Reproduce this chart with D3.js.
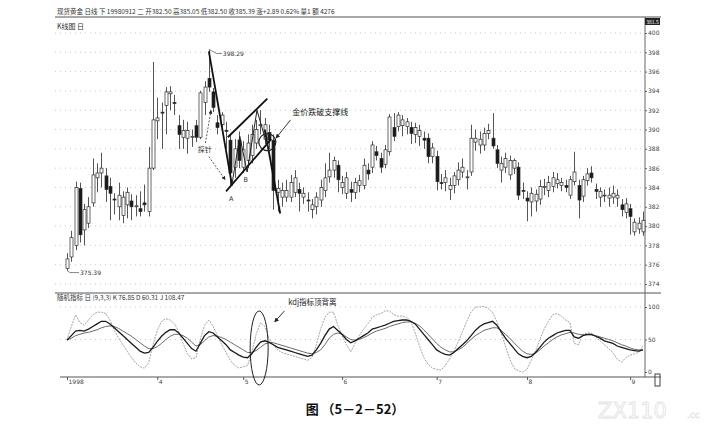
<!DOCTYPE html>
<html><head><meta charset="utf-8">
<script src="https://cdn.jsdelivr.net/npm/d3@7"></script>
<style>body{margin:0;background:#fff}svg{display:block}</style>
</head><body>
<svg id="c" width="725" height="428"></svg>
<script>
// ---- DATA (daily candles, spot gold, Mar–Sep 1998) ----
const open  = [375.6,376.8,378.0,383.9,379.6,380.3,382.4,385.0,385.5,385.2,384.1,382.8,382.0,381.1,382.2,382.6,382.0,381.8,382.4,381.5,
386.0,390.9,391.8,392.5,393.7,392.8,390.4,389.2,389.1,389.2,390.4,389.2,392.8,395.3,393.9,390.7,390.5,389.9,388.9,386.1,
388.9,386.1,386.8,387.3,388.6,390.4,389.0,389.7,388.9,383.5,383.0,383.0,383.0,383.5,383.8,383.0,382.7,381.7,382.0,382.7,
383.7,385.1,385.8,386.3,384.0,383.4,383.8,383.5,384.2,384.2,385.8,386.1,387.7,387.0,386.4,387.7,390.2,390.3,390.4,390.3,
390.2,389.5,389.3,389.1,389.1,387.2,387.2,384.5,384.5,383.8,384.2,384.8,385.6,385.0,385.6,388.7,388.4,388.4,389.6,389.1,
387.9,385.8,386.1,385.3,386.0,386.1,383.7,382.9,382.5,382.6,382.8,384.0,383.7,384.1,384.4,384.2,384.2,383.2,384.6,384.2,
383.1,384.7,385.5,383.8,383.0,383.2,382.9,383.0,382.9,382.2,381.4,381.8,379.4,379.7,379.4];
const high  = [377.2,379.5,384.6,384.5,382.3,383.0,387.0,386.5,387.6,386.0,385.0,383.4,384.5,383.6,384.0,383.3,383.2,383.6,384.3,388.2,
397.0,393.3,392.8,394.4,394.5,393.6,391.5,391.0,390.8,390.0,391.0,394.0,395.0,398.29,394.3,391.5,391.8,390.8,389.5,389.0,
389.8,388.8,389.5,390.5,391.0,392.0,391.2,390.5,389.5,384.8,384.5,384.8,385.3,385.8,384.5,384.0,383.5,382.8,383.5,384.8,
386.5,387.6,387.2,386.8,385.2,385.6,384.6,385.0,385.3,387.0,386.5,388.8,388.3,387.6,388.4,391.6,391.7,391.8,391.5,391.2,
390.8,390.7,390.5,389.8,389.6,388.6,387.8,385.4,385.8,385.0,385.6,386.6,387.0,385.8,390.5,390.0,389.8,390.2,390.6,391.7,
388.4,387.2,387.6,387.3,387.0,386.6,384.5,383.6,384.0,383.8,384.8,384.9,385.2,385.6,385.5,385.0,384.8,385.2,387.7,384.8,
385.2,386.0,386.2,384.4,384.0,383.8,384.0,384.2,383.8,382.8,382.9,382.3,380.8,380.9,381.5];
const low   = [375.39,376.3,377.5,378.3,378.0,379.8,382.0,383.5,384.0,382.5,380.6,381.2,380.6,380.3,380.8,380.6,381.0,381.0,381.5,381.0,
385.8,389.0,388.0,389.5,392.0,391.5,388.0,388.0,387.5,388.2,388.7,389.0,391.5,393.9,391.8,389.5,389.8,388.0,384.2,385.0,
386.0,385.5,386.0,386.5,388.0,389.5,388.5,388.0,381.7,381.5,382.0,382.5,382.5,383.0,381.5,382.3,381.5,380.8,381.2,382.0,
383.0,384.5,385.0,383.5,383.3,382.8,382.5,382.8,383.5,383.8,384.8,385.5,386.8,385.5,386.0,387.3,388.8,389.8,389.3,389.5,
388.5,388.6,388.3,388.0,386.5,386.5,383.7,383.8,383.6,382.7,383.4,384.2,385.0,383.8,385.2,387.8,387.5,387.8,389.0,388.0,
386.0,384.5,385.5,384.8,385.4,382.7,382.8,380.5,381.0,381.5,382.2,383.2,383.0,383.5,383.9,383.6,383.5,382.8,384.2,380.8,
382.5,384.2,384.5,382.8,382.0,382.5,382.0,382.3,382.0,381.0,380.8,379.1,379.0,379.2,379.0];
const close = [376.6,378.8,384.0,379.1,381.7,382.0,385.3,385.5,386.0,383.8,383.4,382.7,383.2,383.0,383.5,382.0,382.1,381.5,382.2,386.0,
391.0,391.2,391.7,393.9,393.9,392.7,389.5,389.9,389.9,389.3,389.2,393.8,394.4,394.4,392.3,390.2,391.5,389.8,385.5,388.0,
386.8,387.9,388.6,389.5,390.0,390.5,390.5,388.9,383.7,383.9,383.7,383.7,384.5,385.0,383.4,383.4,382.6,382.2,383.0,384.0,
385.0,385.8,386.8,384.8,384.5,385.0,383.5,384.5,384.7,386.3,385.4,388.4,387.3,386.1,387.9,391.3,389.3,391.5,391.0,390.8,
389.6,390.2,389.9,388.9,387.2,388.1,384.6,384.4,385.0,384.2,385.2,385.8,386.1,385.1,389.1,389.1,389.0,389.6,389.9,388.3,
386.5,386.5,387.0,386.8,386.8,383.2,383.6,382.6,383.4,383.3,384.1,384.1,384.5,385.0,384.8,384.5,384.0,384.8,385.6,382.7,
384.8,385.4,385.0,383.6,383.6,383.2,383.2,383.4,383.2,381.7,382.3,381.0,380.4,380.3,380.6];

// KDJ (9,3,3) values
const kLine = [49,56,63,64,63,66,70,74,78,78,74,68,62,56,50,44,38,32,29,30,
38,47,55,61,65,65,60,52,44,36,32,44,56,62,60,54,48,42,34,30,
26,23,22,28,38,46,48,46,42,38,36,34,32,30,28,26,24,26,34,44,
56,66,70,64,58,50,45,48,52,56,60,66,68,70,72,75,78,79,80,80,
78,74,66,58,50,42,34,30,27,26,30,36,42,48,56,64,70,74,76,78,
72,62,52,44,36,28,24,22,24,30,38,46,52,56,60,62,64,64,54,52,
56,58,58,55,52,48,46,44,40,38,36,34,33,32,34];
const dLine = [49,52,56,58,60,61,63,65,68,70,71,70,67,63,59,55,50,45,40,36,
36,39,44,50,55,58,58,56,52,46,40,42,48,54,56,55,53,50,46,42,
38,34,30,30,33,38,43,45,45,43,41,39,37,35,33,31,29,28,30,34,
42,52,58,60,58,54,50,49,50,53,56,60,63,65,67,70,72,74,76,77,
77,75,71,65,58,51,44,38,34,31,31,34,38,44,50,56,60,64,66,68,
68,64,58,52,45,38,32,28,27,29,34,40,45,50,54,57,59,61,60,58,
57,57,57,56,54,52,50,48,45,42,40,37,35,34,34];
const jLine = [49,70,88,76,72,80,88,92,92,90,80,64,52,42,32,22,14,8,6,14,
42,64,78,82,80,74,62,44,28,20,22,50,72,80,70,56,42,30,18,10,
6,8,10,30,58,76,70,52,42,34,30,28,26,24,22,20,18,22,42,66,
84,92,92,72,56,42,31,44,56,66,74,84,88,90,94,94,88,86,86,84,
78,60,40,22,12,6,4,3,10,20,32,46,62,78,92,100,100,101,98,92,
78,60,40,20,6,2,0,4,18,32,50,66,78,88,90,86,80,76,44,42,
58,60,60,54,48,42,36,30,20,15,22,26,28,30,40];

const priceTicks = [374,376,378,380,382,384,386,388,390,392,394,396,398,400];
const kdjTicks = [0,50,100];
const monthIdx = [0,21,41,64,86,107,131];
const monthLabels = ["1998","4","5","6","7","8","9"];

// annotations, in [candle index, price] coordinates
const peakLine   = [[33.0,398.1],[38.4,384.2]];
const upperLine  = [[37.4,389.2],[46.6,393.2]];
const lowerLine  = [[37.0,383.6],[47.5,389.0]];
const breakLine  = [[46.0,390.0],[49.6,381.3]];
const waveLine   = [[38.4,384.4],[40.2,389.3],[41.9,385.6],[44.2,392.0],[46.6,388.3]];
const breakCircle = [46.6,388.7];
const kdjEllipse  = [44.7,37];

// ---- DRAW ----
const svg = d3.select("#c");
const n = open.length;
const x = d3.scaleLinear().domain([0, n-1]).range([67, 643]);
const y = d3.scaleLinear().domain([374, 400]).range([284, 33]);
const yk = d3.scaleLinear().domain([0, 100]).range([372, 307]);
const ink = "#2a2a2a";
const font = "'Noto Sans CJK SC','DejaVu Sans',sans-serif";

// frame lines
svg.append("line").attr("x1",55).attr("x2",661).attr("y1",17).attr("y2",17).attr("stroke","#555").attr("stroke-width",1);
svg.append("line").attr("x1",55).attr("x2",661).attr("y1",293).attr("y2",293).attr("stroke","#555").attr("stroke-width",1);
svg.append("line").attr("x1",60).attr("x2",661).attr("y1",377).attr("y2",377).attr("stroke","#555").attr("stroke-width",1);
svg.append("line").attr("x1",645).attr("x2",645).attr("y1",17).attr("y2",377).attr("stroke","#666").attr("stroke-width",1);
svg.append("rect").attr("x",655).attr("y",374).attr("width",5).attr("height",12).attr("fill","none").attr("stroke","#444");

// header texts
svg.append("text").attr("x",57).attr("y",14).attr("font-family",font).attr("font-size",6.5).attr("fill","#333")
  .text("现货黄金  日线 下  19980912 二  开382.50 高385.05 低382.50 收385.39 涨+2.89 0.62% 量1 额 4276");
svg.append("text").attr("x",57).attr("y",29).attr("font-family",font).attr("font-size",7).attr("fill","#333").text("K线图 日");
svg.append("rect").attr("x",645).attr("y",18).attr("width",15).attr("height",7).attr("fill","#222");
svg.append("text").attr("x",652.5).attr("y",24).attr("text-anchor","middle").attr("font-family",font).attr("font-size",5).attr("fill","#fff").text("381.5");
svg.append("text").attr("x",57).attr("y",300).attr("font-family",font).attr("font-size",6.5).attr("fill","#333")
  .text("随机指标 日 (9,3,3) K 76.85 D 60.31 J 108.47");

// grid
svg.append("g").selectAll("line").data(priceTicks).join("line")
  .attr("x1",55).attr("x2",645).attr("y1",d=>y(d)).attr("y2",d=>y(d))
  .attr("stroke","#bbb").attr("stroke-dasharray","1,4").attr("stroke-width",0.8);
svg.append("g").selectAll("line").data([50,100]).join("line")
  .attr("x1",60).attr("x2",645).attr("y1",d=>yk(d)).attr("y2",d=>yk(d))
  .attr("stroke","#bbb").attr("stroke-dasharray","1,4").attr("stroke-width",0.8);

// price axis
const pa = svg.append("g").attr("transform","translate(645,0)")
  .call(d3.axisRight(y).tickValues(priceTicks).tickSize(2).tickFormat(d3.format("d")));
pa.select(".domain").remove();
pa.selectAll("text").attr("font-size",6).attr("font-family","'DejaVu Sans',sans-serif").attr("fill","#444").attr("x",3);
pa.selectAll("line").attr("stroke","#666");

const ka = svg.append("g").attr("transform","translate(645,0)")
  .call(d3.axisRight(yk).tickValues(kdjTicks).tickSize(2));
ka.select(".domain").remove();
ka.selectAll("text").attr("font-size",6).attr("font-family","'DejaVu Sans',sans-serif").attr("fill","#444").attr("x",3);
ka.selectAll("line").attr("stroke","#666");

// date axis
const da = svg.append("g").attr("transform","translate(0,377)")
  .call(d3.axisBottom(x).tickValues(monthIdx).tickSize(3).tickFormat((d,i)=>monthLabels[i]));
da.select(".domain").remove();
da.selectAll("line").attr("stroke","#555");
da.selectAll("text").attr("font-size",6).attr("font-family","'DejaVu Sans',sans-serif").attr("fill","#444")
  .attr("text-anchor","start").attr("x",1).attr("y",3);

// candles
const bw = 3;
const cg = svg.append("g");
const idx = d3.range(n);
cg.selectAll("line.w").data(idx).join("line").attr("class","w")
  .attr("x1",i=>Math.round(x(i))+0.5).attr("x2",i=>Math.round(x(i))+0.5)
  .attr("y1",i=>y(high[i])).attr("y2",i=>y(low[i]))
  .attr("stroke",ink).attr("stroke-width",0.8);
cg.selectAll("rect").data(idx).join("rect")
  .attr("x",i=>Math.round(x(i))+0.5-bw/2)
  .attr("y",i=>y(Math.max(open[i],close[i])))
  .attr("width",bw)
  .attr("height",i=>Math.max(0.8, Math.abs(y(open[i])-y(close[i]))))
  .attr("fill",i=>close[i]>=open[i]?"#fff":"#1a1a1a")
  .attr("stroke",ink).attr("stroke-width",0.7);

// low / high labels
const lowI = low.indexOf(d3.min(low)), highI = high.indexOf(d3.max(high));
svg.append("path").attr("d",`M${x(lowI)},${y(low[lowI])} L${x(lowI)+3},${y(low[lowI])+2} L${x(lowI)+12},${y(low[lowI])+2}`)
  .attr("fill","none").attr("stroke","#555").attr("stroke-width",0.7);
svg.append("text").attr("x",x(lowI)+13).attr("y",y(low[lowI])+4).attr("font-size",6).attr("font-family","'DejaVu Sans',sans-serif").attr("fill","#333")
  .text(d3.format(".2f")(d3.min(low)));
svg.append("path").attr("d",`M${x(highI)},${y(high[highI])} L${x(highI)+8},${y(high[highI])+4} L${x(highI)+13},${y(high[highI])+4}`)
  .attr("fill","none").attr("stroke","#555").attr("stroke-width",0.7);
svg.append("text").attr("x",x(highI)+14).attr("y",y(high[highI])+6).attr("font-size",6).attr("font-family","'DejaVu Sans',sans-serif").attr("fill","#333")
  .text(d3.format(".2f")(d3.max(high)));

// trend lines
const pl = d3.line().x(d=>x(d[0])).y(d=>y(d[1]));
[peakLine, upperLine, lowerLine, breakLine].forEach(L=>{
  svg.append("path").attr("d",pl(L)).attr("fill","none").attr("stroke","#111").attr("stroke-width",1.8);
});
svg.append("path").attr("d",pl(waveLine)).attr("fill","none").attr("stroke","#222").attr("stroke-width",1);
svg.append("circle").attr("cx",x(breakCircle[0])).attr("cy",y(breakCircle[1])).attr("r",8.5)
  .attr("fill","none").attr("stroke","#222").attr("stroke-width",1.2);

// arrow marker
const defs = svg.append("defs");
defs.append("marker").attr("id","ah").attr("viewBox","0 0 10 10").attr("refX",9).attr("refY",5)
  .attr("markerWidth",5).attr("markerHeight",5).attr("orient","auto")
  .append("path").attr("d","M0,0 L10,5 L0,10 z").attr("fill","#222");

// labels A, B
svg.append("text").attr("x",x(38.2)).attr("y",y(382.6)).attr("font-size",6.5).attr("font-family","'DejaVu Sans',sans-serif").attr("fill","#333").attr("text-anchor","middle").text("A");
svg.append("text").attr("x",x(41.6)).attr("y",y(384.6)).attr("font-size",6.5).attr("font-family","'DejaVu Sans',sans-serif").attr("fill","#333").attr("text-anchor","middle").text("B");

// 探针 label with dashed arrows
svg.append("text").attr("x",x(30.4)).attr("y",y(387.7)).attr("font-size",7).attr("font-family",font).attr("fill","#333").text("探针");
svg.append("line").attr("x1",x(32.2)).attr("y1",y(388.6)).attr("x2",x(33.5)).attr("y2",y(392.0))
  .attr("stroke","#333").attr("stroke-width",0.8).attr("stroke-dasharray","2,1.5").attr("marker-end","url(#ah)");
svg.append("line").attr("x1",x(33.0)).attr("y1",y(387.2)).attr("x2",x(36.8)).attr("y2",y(384.8))
  .attr("stroke","#333").attr("stroke-width",0.8).attr("stroke-dasharray","2,1.5").attr("marker-end","url(#ah)");

// 金价跌破支撑线
svg.append("text").attr("x",x(52.4)).attr("y",y(391.5)).attr("font-size",8).attr("font-family",font).attr("fill","#222").text("金价跌破支撑线");
svg.append("line").attr("x1",x(52.0)).attr("y1",y(391.0)).attr("x2",x(48.6)).attr("y2",y(389.1))
  .attr("stroke","#222").attr("stroke-width",0.9).attr("marker-end","url(#ah)");

// KDJ lines
const kl = d3.line().x((d,i)=>x(i)).y(d=>yk(d)).curve(d3.curveLinear);
svg.append("path").attr("d",kl(jLine)).attr("fill","none").attr("stroke","#9a9a9a").attr("stroke-width",0.9).attr("stroke-dasharray","2,1");
svg.append("path").attr("d",kl(dLine)).attr("fill","none").attr("stroke","#6a6a6a").attr("stroke-width",1);
svg.append("path").attr("d",kl(kLine)).attr("fill","none").attr("stroke","#1a1a1a").attr("stroke-width",1.3);

// KDJ annotation
svg.append("ellipse").attr("cx",x(kdjEllipse[0])).attr("cy",yk(kdjEllipse[1])).attr("rx",9).attr("ry",37)
  .attr("fill","none").attr("stroke","#222").attr("stroke-width",1);
svg.append("text").attr("x",x(51.5)).attr("y",yk(103)).attr("font-size",7.5).attr("font-family",font).attr("fill","#222").text("kdj指标顶背离");
svg.append("line").attr("x1",x(50.6)).attr("y1",yk(94)).attr("x2",x(48.3)).attr("y2",yk(77))
  .attr("stroke","#222").attr("stroke-width",0.9).attr("marker-end","url(#ah)");

// caption and watermark
svg.append("text").attr("x",355).attr("y",414).attr("text-anchor","middle").attr("font-family",font)
  .attr("font-size",13).attr("font-weight","bold").attr("fill","#111").text("图 （5－2－52）");
svg.append("text").attr("x",598).attr("y",418).attr("font-family","'DejaVu Sans',sans-serif").attr("font-size",21)
  .attr("fill","none").attr("stroke","#e2e2e2").attr("stroke-width",0.8).text("ZX110");
svg.append("text").attr("x",687).attr("y",418).attr("font-family","'DejaVu Sans',sans-serif").attr("font-size",9)
  .attr("fill","none").attr("stroke","#e2e2e2").attr("stroke-width",0.6).text(".cc");
</script>
</body></html>
